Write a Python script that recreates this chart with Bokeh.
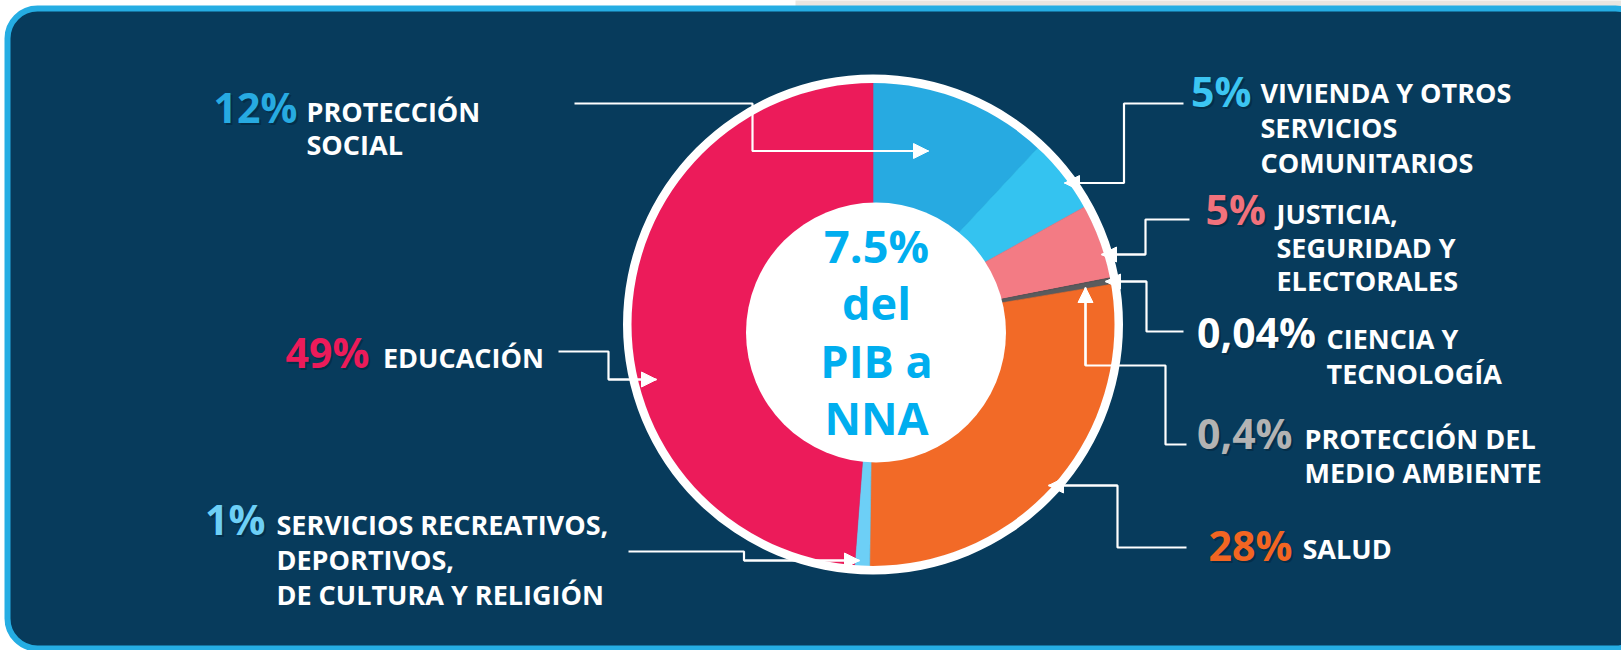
import numpy as np
from bokeh.plotting import figure
from bokeh.models import ColumnDataSource, Range1d, BoxAnnotation, Arrow, NormalHead
from bokeh.core.properties import value
from bokeh.embed import file_html
from bokeh.resources import INLINE

# ---------------- data ----------------
categories = ["PROTECCIÓN SOCIAL", "VIVIENDA Y OTROS SERVICIOS COMUNITARIOS",
              "JUSTICIA, SEGURIDAD Y ELECTORALES", "CIENCIA Y TECNOLOGÍA",
              "PROTECCIÓN DEL MEDIO AMBIENTE", "SALUD",
              "SERVICIOS RECREATIVOS, DEPORTIVOS, DE CULTURA Y RELIGIÓN", "EDUCACIÓN"]
values = [12, 5, 5, 0.04, 0.4, 28, 1, 49]
value_labels = ["12%", "5%", "5%", "0,04%", "0,4%", "28%", "1%", "49%"]
label_lines = [["PROTECCIÓN", "SOCIAL"],
               ["VIVIENDA Y OTROS", "SERVICIOS", "COMUNITARIOS"],
               ["JUSTICIA,", "SEGURIDAD Y", "ELECTORALES"],
               ["CIENCIA Y", "TECNOLOGÍA"],
               ["PROTECCIÓN DEL", "MEDIO AMBIENTE"],
               ["SALUD"],
               ["SERVICIOS RECREATIVOS,", "DEPORTIVOS,", "DE CULTURA Y RELIGIÓN"],
               ["EDUCACIÓN"]]
center_lines = ["7.5%", "del", "PIB a", "NNA"]

# ---------------- styles ----------------
slice_colors = ["#27aae1", "#34c3f0", "#f37b84", "#4b4b4d", "#5a5b5d", "#f26a27", "#6dcff6", "#ec1b5a"]
number_colors = ["#27aae1", "#3cc5f2", "#f2727c", "#ffffff", "#b3b3b3", "#f26522", "#6dcff6", "#ec1b5a"]
NAVY = "#073b5c"
FRAME = "#25ade3"
CENTER_COLOR = "#00aeef"
FONT = "Open Sans"
NUM_SIZE, LAB_SIZE, CEN_SIZE = 41, 27, 45
BASE_FIX = 0.40  # baseline correction (em) for the svg text layout

W, H = 1621.0, 650.0
def Y(y):
    return H - y

# layout (reference pixel coordinates, y downward)
CX, CY = 872.5, 324.0
R_OUT, R_RING = 242.0, 250.0
ICX, ICY, R_IN = 875.5, 332.0, 130.0

num_pos = [(213, 122.5), (1190.5, 106.5), (1205, 224.5), (1196.5, 347.5),
           (1196.5, 449), (1208, 561), (204.5, 535), (285, 368)]
text_pos = [(306, 121.5, 33.5), (1260, 102.5, 35), (1276, 224, 33.3), (1326, 349, 35),
            (1304, 448.3, 34.4), (1302, 559, 0), (276, 535, 35), (382.5, 367.5, 0)]
leader_paths = [
    [(574, 103), (752, 103), (752, 150.5), (928, 150.5)],
    [(1183, 103), (1123.5, 103), (1123.5, 182.5), (1064, 182.5)],
    [(1189, 219), (1145, 219), (1145, 254), (1101, 254)],
    [(1183, 331), (1146, 331), (1146, 281), (1105, 281)],
    [(1186, 444), (1165, 444), (1165, 365), (1085, 365), (1085, 287)],
    [(1186, 547), (1117, 547), (1117, 485), (1048, 485)],
    [(628, 551), (743.5, 551), (743.5, 560), (859, 560)],
    [(558, 351), (608, 351), (608, 379), (656, 379)],
]

def TY(y, size):
    return Y(y - BASE_FIX * size)

# ---------------- figure ----------------
p = figure(width=int(W), height=int(H), x_range=Range1d(0, W), y_range=Range1d(0, H),
           output_backend="svg", toolbar_location=None, min_border=0)
p.axis.visible = False
p.grid.visible = False
p.outline_line_color = None
p.background_fill_color = "white"
p.border_fill_color = "white"

p.add_layout(BoxAnnotation(left=795, right=W + 10, top=Y(-5), bottom=Y(6),
                           fill_color="#e9e5e0", fill_alpha=1.0, line_color=None, level="underlay"))
p.add_layout(BoxAnnotation(left=7, right=1645, top=Y(8), bottom=Y(648),
                           fill_color=NAVY, fill_alpha=1.0, line_color=FRAME, line_width=6,
                           line_alpha=1.0, border_radius=30, level="underlay"))

# donut slices
vals = np.array(values, dtype=float)
frac = vals / vals.sum()
cum = np.concatenate([[0.0], np.cumsum(frac)])
start = np.pi / 2 - cum[1:] * 2 * np.pi
end = np.pi / 2 - cum[:-1] * 2 * np.pi
src = ColumnDataSource(dict(cat=categories, start=start, end=end, color=slice_colors))
p.wedge(x=CX, y=Y(CY), radius=R_OUT, start_angle="start", end_angle="end",
        direction="anticlock", fill_color="color", line_color="color", line_width=0.6, source=src)
p.annulus(x=CX, y=Y(CY), inner_radius=R_OUT - 0.5, outer_radius=R_RING,
          fill_color="white", line_color=None)
p.circle(x=ICX, y=Y(ICY), radius=R_IN, fill_color="white", line_color=None)

# leader lines with arrows
xs = [[pt[0] for pt in path] for path in leader_paths]
ys = [[Y(pt[1]) for pt in path] for path in leader_paths]
p.multi_line(xs=xs, ys=ys, line_color="white", line_width=2.2)
for path in leader_paths:
    (x0, y0), (x1, y1) = path[-2], path[-1]
    p.add_layout(Arrow(end=NormalHead(size=15, fill_color="white", line_color="white", line_width=1),
                       x_start=x0, y_start=Y(y0), x_end=x1, y_end=Y(y1),
                       line_color="white", line_width=2.2))

# percentage numbers (with subtle shadow)
nx = [pp[0] for pp in num_pos]
ny = [TY(pp[1], NUM_SIZE) for pp in num_pos]
p.text(x=[x + 2 for x in nx], y=[y - 2 for y in ny], text=value_labels,
       text_color="#02233a", text_alpha=0.55, text_font=value(FONT), text_font_style="bold",
       text_font_size=value(f"{NUM_SIZE}px"), text_baseline="alphabetic", text_align="left")
p.text(x=nx, y=ny, text=value_labels, text_color=number_colors,
       text_font=value(FONT), text_font_style="bold",
       text_font_size=value(f"{NUM_SIZE}px"), text_baseline="alphabetic", text_align="left")

# category labels
lx, ly, lt = [], [], []
for (tx, ty, dy), lines in zip(text_pos, label_lines):
    for i, line in enumerate(lines):
        lx.append(tx)
        ly.append(TY(ty + i * dy, LAB_SIZE))
        lt.append(line)
p.text(x=lx, y=ly, text=lt, text_color="white", text_font=value(FONT), text_font_style="bold",
       text_font_size=value(f"{LAB_SIZE}px"), text_baseline="alphabetic", text_align="left")

# center text
cb = [263, 320, 378, 435]
p.text(x=[876] * 4, y=[TY(b, CEN_SIZE) for b in cb], text=center_lines, text_color=CENTER_COLOR,
       text_font=value(FONT), text_font_style="bold", text_font_size=value(f"{CEN_SIZE}px"),
       text_baseline="alphabetic", text_align="center")

open("out.html", "w").write(file_html(p, INLINE))
